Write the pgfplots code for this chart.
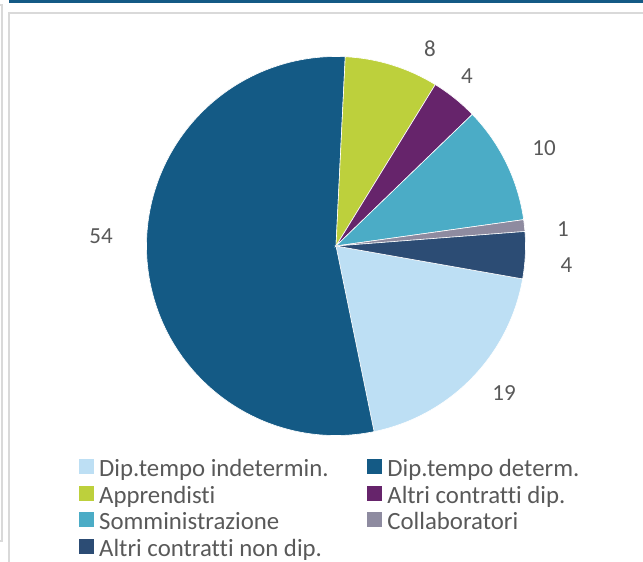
\documentclass[border=0pt]{standalone}
\usepackage{fontspec}
\setmainfont{Carlito}[RawFeature={-liga;-clig;-dlig}]
\usepackage{pgfplots}
\usepackage{pgfplotstable}
\pgfplotsset{compat=1.18}
\definecolor{cIndet}{HTML}{BDDFF4}
\definecolor{cDet}{HTML}{145A85}
\definecolor{cAppr}{HTML}{BDD03C}
\definecolor{cAltri}{HTML}{66246B}
\definecolor{cSomm}{HTML}{4BACC6}
\definecolor{cColl}{HTML}{8E8BA0}
\definecolor{cNonDip}{HTML}{2C4C74}
\definecolor{txt}{HTML}{595959}
\definecolor{framec}{HTML}{D9D9D9}

% val = percentage, cum = cumulative share before the slice
\pgfplotstableread{
idx val cum cx cy lx ly
0 19 0 336 316 504 169
1 54 19 336 316 101 326
2 8 73 336 316 430 513
3 4 81 336 316 467 486
4 10 85 336 316 544 414
5 1 95 336 316 563 333
6 4 96 336 316 566.5 297
}\piedata

\begin{document}
\begin{tikzpicture}
\useasboundingbox (0pt,0pt) rectangle (643pt,562pt);
\begin{axis}[
  at={(0pt,0pt)}, anchor=south west,
  hide axis, scale only axis,
  width=643pt, height=562pt,
  xmin=0, xmax=643, ymin=0, ymax=562,
  clip=false,
  legend columns=2,
  legend cell align=left,
  legend style={at={(axis cs:79,103)}, anchor=north west, draw=none, fill=none,
    inner sep=0pt, outer sep=0pt, row sep=7.8pt, column sep=0pt,
    font=\fontsize{24.8}{27}\selectfont, text=txt,
    nodes={inner sep=0pt, outer sep=0pt}},
  legend image code/.code={\fill[#1, draw=none] (0pt,-5.5pt) rectangle (15pt,9.5pt); \path (20pt,0pt);},
]
\addplot[forget plot, scatter, only marks, mark=*, mark size=0pt,
  visualization depends on={\thisrow{val} \as \sval},
  visualization depends on={\thisrow{cum} \as \scum},
  visualization depends on={\thisrow{idx} \as \sidx},
  scatter/@pre marker code/.code={%
    \pgfmathtruncatemacro\kk{\sidx}%
    \ifcase\kk \def\scol{cIndet}\or \def\scol{cDet}\or \def\scol{cAppr}\or
      \def\scol{cAltri}\or \def\scol{cSomm}\or \def\scol{cColl}\or \def\scol{cNonDip}\fi
    \pgfmathsetmacro\sa{-10-3.6*\scum}%
    \pgfmathsetmacro\da{-3.6*\sval}%
    \fill[\scol, draw=white, line width=0.6pt] (0pt,0pt) -- (\sa:189.5pt)
      arc[start angle=\sa, delta angle=\da, radius=189.5pt] -- cycle;
  },
  scatter/@post marker code/.code={},
] table[x=cx, y=cy] {\piedata};

\addplot[forget plot, only marks, mark=none,
  nodes near coords, point meta=explicit symbolic,
  nodes near coords align={center},
  every node near coord/.append style={anchor=center, inner sep=0pt,
    font=\fontsize{23}{27}\selectfont, text=txt},
] table[x=lx, y=ly, meta=val] {\piedata};

\addlegendimage{fill=cIndet}
\addlegendentry{\makebox[268pt][l]{Dip.tempo indetermin.}}
\addlegendimage{fill=cDet}
\addlegendentry{\makebox[240pt][l]{Dip.tempo determ.}}
\addlegendimage{fill=cAppr}
\addlegendentry{\makebox[268pt][l]{Apprendisti}}
\addlegendimage{fill=cAltri}
\addlegendentry{\makebox[240pt][l]{Altri contratti dip.}}
\addlegendimage{fill=cSomm}
\addlegendentry{\makebox[268pt][l]{Somministrazione}}
\addlegendimage{fill=cColl}
\addlegendentry{\makebox[240pt][l]{Collaboratori}}
\addlegendimage{fill=cNonDip}
\addlegendentry{\makebox[268pt][l]{Altri contratti non dip.}}
\end{axis}
\fill[cDet] (8.5pt,562pt) rectangle (643pt,558.7pt);
\draw[framec, line width=2pt] (8.7pt,0pt) -- (8.7pt,549.3pt) -- (643pt,549.3pt);
\draw[framec, line width=1.5pt] (0pt,557pt) -- (2.2pt,557pt) -- (2.2pt,21pt) -- (0pt,21pt);
\end{tikzpicture}
\end{document}
